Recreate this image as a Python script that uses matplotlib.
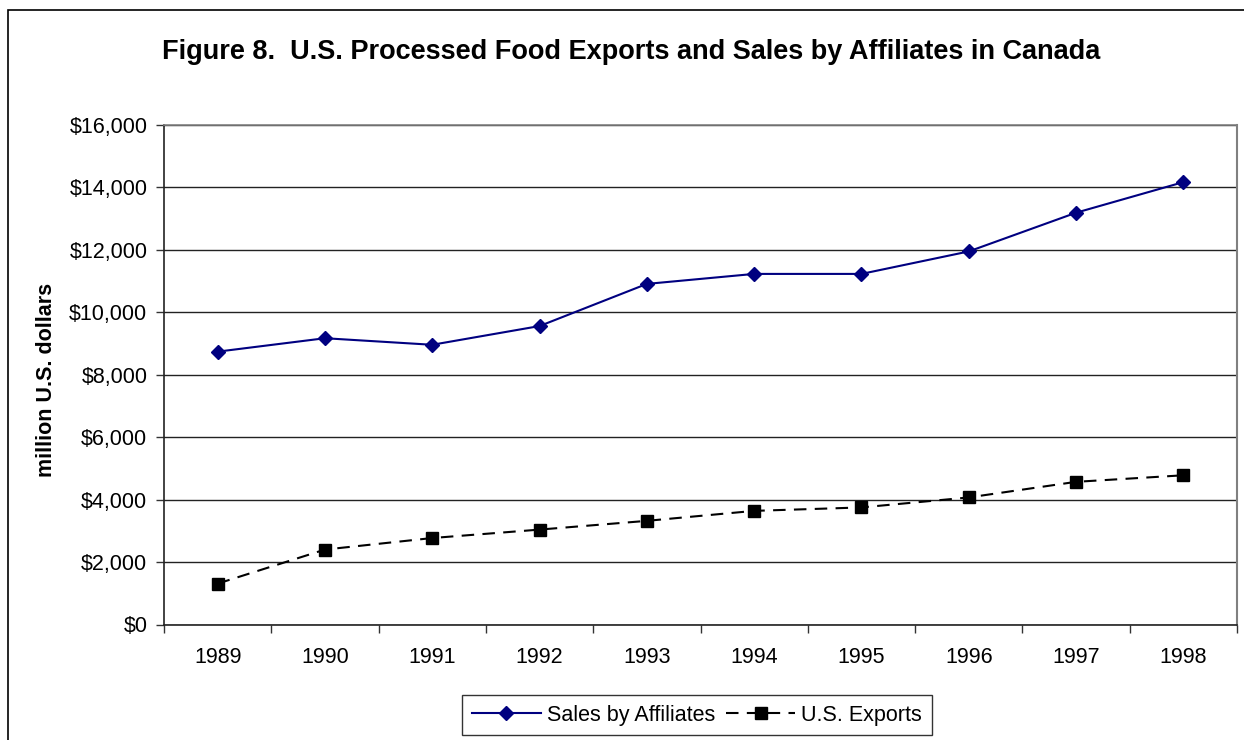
import matplotlib
matplotlib.use("Agg")
import matplotlib.pyplot as plt
from matplotlib.patches import Rectangle
from matplotlib.ticker import FuncFormatter, FixedLocator

years = ["1989", "1990", "1991", "1992", "1993", "1994", "1995", "1996", "1997", "1998"]
sales_affiliates = [8740, 9170, 8960, 9560, 10910, 11230, 11230, 11950, 13190, 14170]
us_exports = [1310, 2400, 2770, 3040, 3320, 3640, 3750, 4070, 4570, 4780]

plt.rcParams['font.family'] = ['Liberation Sans', 'DejaVu Sans']

W, H = 1244, 740
fig = plt.figure(figsize=(W / 100, H / 100), dpi=100)
fig.patch.set_facecolor('white')

# outer frame (extends beyond right/bottom)
fig.patches.append(Rectangle((8 / W, -0.1), 1.2, 1 - 10 / H + 0.1, transform=fig.transFigure,
                             fill=False, edgecolor='black', linewidth=1.2))

ax = fig.add_axes([164 / W, 1 - 624.5 / H, (1237 - 164) / W, (624.5 - 125) / H])
x = list(range(len(years)))

ax.plot(x, sales_affiliates, color='#000080', linewidth=1.5, marker='D', markersize=7,
        markerfacecolor='#000080', markeredgecolor='#000080', label='Sales by Affiliates', zorder=3)
ax.plot(x, us_exports, color='black', linewidth=1.5, linestyle=(0, (6, 4)), marker='s', markersize=8,
        markerfacecolor='black', markeredgecolor='black', label='U.S. Exports', zorder=3)

ax.set_xlim(-0.5, len(years) - 0.5)
ax.set_ylim(0, 16000)
ax.set_yticks(range(0, 16001, 2000))
ax.yaxis.set_major_formatter(FuncFormatter(lambda v, p: f"${int(v):,}"))
ax.yaxis.grid(True, color='#222222', linewidth=1.0)
ax.set_axisbelow(True)

ax.xaxis.set_major_locator(FixedLocator([i - 0.5 for i in range(len(years) + 1)]))
ax.xaxis.set_minor_locator(FixedLocator(x))
ax.set_xticklabels([])
ax.set_xticklabels(years, minor=True)
ax.tick_params(axis='x', which='major', direction='out', length=6, width=1, color='#333333')
ax.tick_params(axis='x', which='minor', length=0, pad=16, labelsize=15.5)
ax.tick_params(axis='y', direction='out', length=6, width=1, color='#333333', labelsize=15.5, pad=6)

for s in ['left', 'bottom']:
    ax.spines[s].set_color('#222222')
    ax.spines[s].set_linewidth(1.2)
ax.spines['right'].set_color('#808080')
ax.spines['right'].set_linewidth(1.5)
ax.spines['top'].set_color('#808080')
ax.spines['top'].set_linewidth(1.2)

fig.text(631 / W, 1 - 52 / H, "Figure 8.  U.S. Processed Food Exports and Sales by Affiliates in Canada",
         ha='center', va='center', fontsize=19.5, fontweight='bold')
fig.text(47 / W, 1 - 380 / H, "million U.S. dollars", ha='center', va='center', rotation=90,
         fontsize=15.5, fontweight='bold')

leg = fig.legend(loc='upper center', bbox_to_anchor=(697 / W, 1 - 695 / H), ncol=2, frameon=True,
                 fancybox=False, edgecolor='black', fontsize=15.5, handlelength=3.2,
                 columnspacing=0.5, handletextpad=0.3, borderpad=0.45, borderaxespad=0)
leg.get_frame().set_linewidth(1.0)

fig.savefig("out.png", dpi=100, facecolor='white')
